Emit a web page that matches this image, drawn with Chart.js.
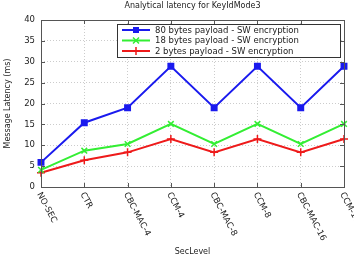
<!DOCTYPE html>
<html>
<head>
<meta charset="utf-8">
<script src="https://cdn.jsdelivr.net/npm/chart.js@4"></script>
<style>
  html, body { margin: 0; padding: 0; background: #fff; }
  #wrap { width: 354px; height: 259px; }
</style>
</head>
<body>
<div id="wrap"><canvas id="myChart"></canvas></div>
<script>
const secLevels = ['NO-SEC', 'CTR', 'CBC-MAC-4', 'CCM-4', 'CBC-MAC-8', 'CCM-8', 'CBC-MAC-16', 'CCM-16'];
const payload80 = [5.9, 15.4, 19.0, 28.9, 19.0, 28.9, 19.0, 28.9];
const payload18 = [4.1, 8.7, 10.3, 15.1, 10.3, 15.1, 10.3, 15.1];
const payload2 = [3.4, 6.4, 8.3, 11.5, 8.3, 11.5, 8.3, 11.5];
const yTicks = [0, 5, 10, 15, 20, 25, 30, 35, 40];

const FONT = '"DejaVu Sans", sans-serif';
const ctx = document.getElementById('myChart');

// draws title, rotated x labels, frame, inner ticks and the legend box
const extras = {
  id: 'extras',
  afterDraw(chart) {
    const c = chart.ctx;
    const a = chart.chartArea;
    const xs = chart.scales.x, ys = chart.scales.y;
    c.save();
    // frame
    c.strokeStyle = '#555';
    c.lineWidth = 1;
    c.strokeRect(Math.round(a.left) + 0.5, Math.round(a.top) + 0.5, Math.round(a.right - a.left), Math.round(a.bottom - a.top));
    // inner tick marks
    c.beginPath();
    xs.ticks.forEach((t, i) => {
      const px = Math.round(xs.getPixelForTick(i)) + 0.5;
      c.moveTo(px, a.bottom); c.lineTo(px, a.bottom - 4);
      c.moveTo(px, a.top); c.lineTo(px, a.top + 4);
    });
    ys.ticks.forEach((t, i) => {
      const py = Math.round(ys.getPixelForTick(i)) + 0.5;
      c.moveTo(a.left, py); c.lineTo(a.left + 4, py);
      c.moveTo(a.right, py); c.lineTo(a.right - 4, py);
    });
    c.stroke();
    // title
    c.fillStyle = '#222';
    c.font = '8px ' + FONT;
    c.textAlign = 'center';
    c.textBaseline = 'middle';
    c.fillText('Analytical latency for KeyIdMode3', (a.left + a.right) / 2, 6);
    // rotated x labels
    c.font = '8.5px ' + FONT;
    c.textAlign = 'left';
    c.textBaseline = 'middle';
    secLevels.forEach((lab, i) => {
      const px = xs.getPixelForTick(i);
      c.save();
      c.translate(px - 2, a.bottom + 6);
      c.rotate(62 * Math.PI / 180);
      c.fillText(lab, 0, 0);
      c.restore();
    });
    // legend
    const lx = 117, ly = 24, lw = 223, lh = 33;
    c.fillStyle = '#fff';
    c.fillRect(lx, ly, lw, lh);
    c.strokeStyle = '#333';
    c.strokeRect(lx + 0.5, ly + 0.5, lw, lh);
    chart.data.datasets.forEach((ds, i) => {
      const y = ly + 6 + i * 10.5;
      c.strokeStyle = ds.borderColor;
      c.lineWidth = 2;
      c.beginPath(); c.moveTo(lx + 5, y); c.lineTo(lx + 33, y); c.stroke();
      const mx = lx + 19;
      c.lineWidth = 1.5;
      if (ds.pointStyle === 'rect') {
        c.fillStyle = ds.borderColor;
        c.fillRect(mx - 3, y - 3, 6, 6);
      } else if (ds.pointStyle === 'crossRot') {
        c.beginPath();
        c.moveTo(mx - 3, y - 3); c.lineTo(mx + 3, y + 3);
        c.moveTo(mx - 3, y + 3); c.lineTo(mx + 3, y - 3);
        c.stroke();
      } else {
        c.beginPath();
        c.moveTo(mx - 4, y); c.lineTo(mx + 4, y);
        c.moveTo(mx, y - 4); c.lineTo(mx, y + 4);
        c.stroke();
      }
      c.fillStyle = '#222';
      c.font = '8.5px ' + FONT;
      c.fillText(ds.label, lx + 38, y + 0.5);
    });
    c.restore();
  }
};

new Chart(ctx, {
  type: 'line',
  data: {
    labels: secLevels,
    datasets: [{
      label: '80 bytes payload - SW encryption',
      data: payload80,
      borderColor: '#1a1aee',
      backgroundColor: '#1a1aee',
      pointStyle: 'rect',
      pointRadius: 3.5,
      borderWidth: 2,
      tension: 0
    }, {
      label: '18 bytes payload - SW encryption',
      data: payload18,
      borderColor: '#33ee33',
      backgroundColor: '#33ee33',
      pointStyle: 'crossRot',
      pointRadius: 4,
      pointBorderWidth: 1.5,
      borderWidth: 2,
      tension: 0
    }, {
      label: '2 bytes payload - SW encryption',
      data: payload2,
      borderColor: '#ee1a1a',
      backgroundColor: '#ee1a1a',
      pointStyle: 'cross',
      pointRadius: 4,
      pointBorderWidth: 1.5,
      borderWidth: 2,
      tension: 0
    }]
  },
  options: {
    responsive: true,
    maintainAspectRatio: false,
    animation: false,
    layout: { padding: { top: 20, right: 10, left: 0, bottom: 0 } },
    plugins: {
      legend: { display: false },
      title: { display: false },
      tooltip: { enabled: false }
    },
    scales: {
      x: {
        offset: false,
        grid: { color: '#ccc', drawTicks: false },
        border: { display: false, dash: [1, 2] },
        ticks: { display: false },
        title: { display: true, text: 'SecLevel', color: '#222', font: { family: FONT, size: 8 }, padding: { top: 0, bottom: 2 } },
        afterFit(s) { s.height = 72; }
      },
      y: {
        min: 0,
        max: 40,
        afterBuildTicks(s) { s.ticks = yTicks.map(v => ({ value: v })); },
        grid: { color: '#ccc', drawTicks: false },
        border: { display: false, dash: [1, 2] },
        ticks: { color: '#222', font: { family: FONT, size: 8.5 }, padding: 6 },
        title: { display: true, text: 'Message Latency (ms)', color: '#222', font: { family: FONT, size: 8 }, padding: { top: 3, bottom: 0 } },
        afterFit(s) { s.width = 41; }
      }
    }
  },
  plugins: [extras]
});
</script>
</body>
</html>
